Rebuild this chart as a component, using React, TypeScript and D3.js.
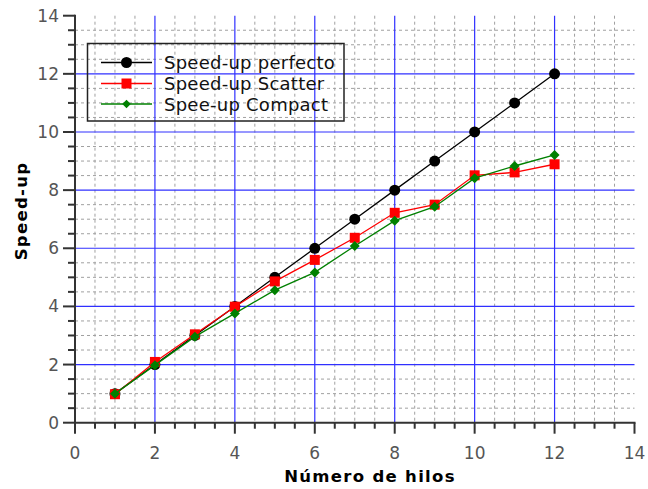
import React from "react";
import * as d3 from "d3";

const threads = [1, 2, 3, 4, 5, 6, 7, 8, 9, 10, 11, 12];
const perfect = [1, 2, 3, 4, 5, 6, 7, 8, 9, 10, 11, 12];
const scatter = [0.98, 2.09, 3.04, 3.99, 4.86, 5.6, 6.36, 7.22, 7.5, 8.51, 8.61, 8.89];
const compact = [1.0, 1.98, 2.96, 3.76, 4.56, 5.17, 6.08, 6.95, 7.43, 8.41, 8.83, 9.21];
const xTicks = [0, 2, 4, 6, 8, 10, 12, 14];
const yTicks = [0, 2, 4, 6, 8, 10, 12, 14];
const seriesNames = ["Speed-up perfecto", "Speed-up Scatter", "Spee-up Compact"];
const xTitle = "Número de hilos";
const yTitle = "Speed-up";

const FONT = "DejaVu Sans, Verdana, sans-serif";

export default function App() {
  const W = 648, H = 489;
  const x = d3.scaleLinear().domain([0, 14]).range([75, 634.5]);
  const y = d3.scaleLinear().domain([0, 14]).range([422.7, 15.7]);
  const majorGrid = [2, 4, 6, 8, 10, 12];
  const allMinor = d3.range(0.5, 14.01, 0.5);

  const line = d3
    .line<[number, number]>()
    .x((d) => x(d[0]))
    .y((d) => y(d[1]));

  const series = [
    { name: seriesNames[0], vals: perfect, color: "#000000", shape: "circle" },
    { name: seriesNames[1], vals: scatter, color: "#ff0000", shape: "square" },
    { name: seriesNames[2], vals: compact, color: "#008000", shape: "diamond" },
  ];

  const marker = (shape: string, cx: number, cy: number, color: string, key: any, scale = 1) => {
    if (shape === "circle") return <circle key={key} cx={cx} cy={cy} r={5.5 * scale} fill={color} />;
    if (shape === "square") {
      const s = 10 * scale;
      return <rect key={key} x={cx - s / 2} y={cy - s / 2} width={s} height={s} fill={color} />;
    }
    const r = 5 * scale;
    return (
      <path key={key} d={`M${cx},${cy - r}L${cx + r},${cy}L${cx},${cy + r}L${cx - r},${cy}Z`} fill={color} />
    );
  };

  const legendX = 87.5, legendY = 43.5, legendW = 256.5, legendH = 77.5;
  const rowYs = [62.5, 83.5, 104];

  return (
    <svg width={W} height={H} style={{ position: "absolute", left: 0, top: 0, background: "#fff" }}>
      <rect x={0} y={0} width={W} height={H} fill="#fff" />
      {/* minor grid */}
      <g stroke="#a0a0a0" strokeWidth={1} strokeDasharray="3,3">
        {allMinor
          .filter((v) => !majorGrid.includes(v) && v !== 14)
          .map((v) => (
            <line key={"vx" + v} x1={x(v)} x2={x(v)} y1={y(14)} y2={y(0)} />
          ))}
        {allMinor
          .filter((v) => !majorGrid.includes(v) && v !== 14)
          .map((v) => (
            <line key={"hy" + v} x1={x(0)} x2={x(14)} y1={y(v)} y2={y(v)} />
          ))}
      </g>
      {/* major grid */}
      <g stroke="#3030ff" strokeWidth={1.2}>
        {majorGrid.map((v) => (
          <line key={"mx" + v} x1={x(v)} x2={x(v)} y1={y(14)} y2={y(0)} />
        ))}
        {majorGrid.map((v) => (
          <line key={"my" + v} x1={x(0)} x2={x(14)} y1={y(v)} y2={y(v)} />
        ))}
      </g>
      {/* axes */}
      <g stroke="#333" strokeWidth={2}>
        <line x1={x(0)} x2={x(14) + 1} y1={y(0)} y2={y(0)} />
        <line x1={x(0)} x2={x(0)} y1={y(14) - 1} y2={y(0) + 1} />
        {allMinor.concat([0]).map((v) => {
          const isMajor = xTicks.includes(v);
          return <line key={"tx" + v} x1={x(v)} x2={x(v)} y1={y(0)} y2={y(0) + (isMajor ? 11 : 6)} />;
        })}
        {allMinor.concat([0]).map((v) => {
          const isMajor = yTicks.includes(v);
          return <line key={"ty" + v} x1={x(0) - (isMajor ? 12 : 7)} x2={x(0)} y1={y(v)} y2={y(v)} />;
        })}
      </g>
      <g fill="#555" fontFamily={FONT} fontSize={17}>
        {xTicks.map((v) => (
          <text key={"lx" + v} x={x(v)} y={459} textAnchor="middle">
            {v}
          </text>
        ))}
        {yTicks.map((v) => (
          <text key={"ly" + v} x={59} y={y(v) + 6} textAnchor="end">
            {v}
          </text>
        ))}
      </g>
      {/* series */}
      {series.map((s) => (
        <g key={s.name}>
          <path
            d={line(threads.map((t, i) => [t, s.vals[i]]) as [number, number][]) || ""}
            fill="none"
            stroke={s.color}
            strokeWidth={1.3}
          />
          {threads.map((t, i) => marker(s.shape, x(t), y(s.vals[i]), s.color, s.name + i))}
        </g>
      ))}
      {/* legend */}
      <rect x={legendX} y={legendY} width={legendW} height={legendH} fill="none" stroke="#222" strokeWidth={1.5} />
      {series.map((s, i) => (
        <g key={"lg" + i}>
          <line x1={101} x2={152} y1={rowYs[i]} y2={rowYs[i]} stroke={s.color} strokeWidth={1.3} />
          {marker(s.shape, 126.5, rowYs[i], s.color, "lm" + i, i === 2 ? 0.85 : 1)}
          <text x={164} y={rowYs[i] + 6.5} fontFamily={FONT} fontSize={18} letterSpacing={0.25} fill="#111">
            {s.name}
          </text>
        </g>
      ))}
      {/* titles */}
      <text x={370} y={482} textAnchor="middle" fontFamily={FONT} fontSize={16.5} letterSpacing={1.3} fontWeight="bold" fill="#000">
        {xTitle}
      </text>
      <text
        transform={`translate(27,211) rotate(-90)`}
        textAnchor="middle"
        fontFamily={FONT}
        fontSize={16.5}
        letterSpacing={1.3}
        fontWeight="bold"
        fill="#000"
      >
        {yTitle}
      </text>
    </svg>
  );
}
